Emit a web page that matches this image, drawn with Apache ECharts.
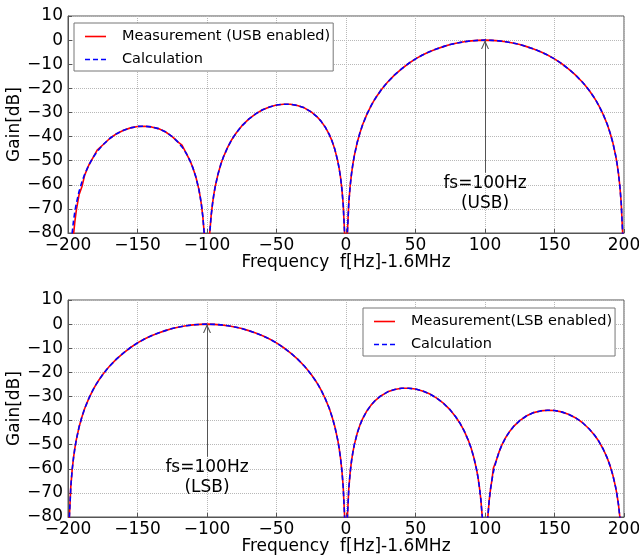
<!DOCTYPE html>
<html>
<head>
<meta charset="utf-8">
<script src="https://cdn.jsdelivr.net/npm/echarts@6/dist/echarts.min.js"></script>
<style>
  html, body { margin: 0; padding: 0; background: #fff; }
  #chart { width: 639px; height: 558px; }
</style>
</head>
<body>
<div id="chart"></div>
<script>
// Axis ticks
const freqTicks = [-200, -150, -100, -50, 0, 50, 100, 150, 200];
const gainTicks = [10, 0, -10, -20, -30, -40, -50, -60, -70, -80];

// Upper panel: USB enabled (frequency offset in Hz, gain in dB)
const freqUsb = [
  -200, -199, -198, -197, -196, -195, -194, -192, -190, -188, -185, -182, -179, -175, -170, -165, -160, -155,
  -150, -145, -140, -135, -130, -125, -121, -118, -115, -112, -110, -108, -106, -105, -104, -103, -102, -101,
  -100, -99, -98, -97, -96, -95, -94, -92, -90, -88, -85, -82, -79, -75, -70, -65, -60, -55,
  -50, -45, -40, -35, -30, -25, -21, -18, -15, -12, -10, -8, -6, -5, -4, -3, -2, -1,
  0, 1, 2, 3, 4, 5, 6, 8, 10, 12, 15, 18, 20, 22, 25, 28, 30, 35,
  40, 45, 50, 55, 60, 65, 70, 75, 80, 85, 90, 95, 100, 105, 110, 115, 120, 125,
  130, 135, 140, 145, 150, 155, 160, 165, 170, 172, 175, 178, 180, 182, 185, 188, 190, 192,
  194, 195, 196, 197, 198, 199, 200
];
const calcUsb = [
  -110, -99.0, -86.9, -79.9, -74.8, -70.9, -67.7, -62.7, -58.8, -55.6, -51.8, -48.7, -46.2, -43.5, -40.8, -38.8, -37.4, -36.4,
  -35.8, -35.7, -36.0, -36.7, -38.0, -40.0, -42.2, -44.3, -46.9, -50.3, -53.2, -56.8, -61.5, -64.6, -68.3, -73.2, -80.2, -92.1,
  -110, -92.0, -79.8, -72.7, -67.7, -63.7, -60.5, -55.4, -51.4, -48.2, -44.3, -41.1, -38.5, -35.6, -32.8, -30.6, -28.9, -27.7,
  -26.9, -26.6, -26.6, -27.1, -28.1, -29.8, -31.7, -33.6, -36.0, -39.2, -41.9, -45.4, -50.0, -53.0, -56.6, -61.5, -68.3, -80.2,
  -110, -79.8, -67.6, -60.4, -55.3, -51.2, -47.9, -42.6, -38.5, -35.0, -30.8, -27.3, -25.2, -23.4, -20.9, -18.7, -17.4, -14.4,
  -11.9, -9.7, -7.8, -6.2, -4.8, -3.7, -2.7, -1.8, -1.2, -0.7, -0.3, -0.1, 0, -0.1, -0.3, -0.7, -1.2, -1.8,
  -2.7, -3.7, -4.8, -6.2, -7.8, -9.7, -11.9, -14.4, -17.4, -18.7, -20.9, -23.4, -25.2, -27.3, -30.8, -35.0, -38.5, -42.6,
  -47.9, -51.2, -55.3, -60.4, -67.6, -79.8, -110
];
const measUsb = [
  -110, -110, -100, -88.0, -80.5, -75.0, -70.5, -64.0, -60.8, -56.0, -51.8, -48.7, -45.6, -43.5, -40.8, -38.8, -37.4, -36.4,
  -35.8, -35.7, -36.0, -36.7, -38.0, -40.0, -42.2, -43.6, -46.9, -50.3, -53.2, -56.8, -61.5, -64.6, -68.3, -73.2, -80.2, -92.1,
  -110, -92.0, -79.8, -72.7, -67.7, -63.7, -60.5, -55.4, -51.4, -48.2, -44.3, -41.1, -38.5, -35.6, -32.8, -30.6, -28.9, -27.7,
  -26.9, -26.6, -26.6, -27.1, -28.1, -29.8, -31.7, -33.6, -36.0, -39.2, -41.9, -45.4, -50.0, -53.0, -56.6, -61.5, -68.3, -80.2,
  -110, -79.8, -67.6, -60.4, -55.3, -51.2, -47.9, -42.6, -38.5, -35.0, -30.8, -27.3, -25.2, -23.4, -20.9, -18.7, -17.4, -14.4,
  -11.9, -9.7, -7.8, -6.2, -4.8, -3.7, -2.7, -1.8, -1.2, -0.7, -0.3, -0.1, 0, -0.1, -0.3, -0.7, -1.2, -1.8,
  -2.7, -3.7, -4.8, -6.2, -7.8, -9.7, -11.9, -14.4, -17.4, -18.7, -20.9, -23.4, -25.2, -27.3, -30.8, -35.0, -38.5, -42.6,
  -47.9, -51.2, -55.3, -60.4, -67.6, -79.8, -110
];

// Lower panel: LSB enabled
const freqLsb = [
  -200, -199, -198, -197, -196, -195, -194, -192, -190, -188, -185, -182, -180, -178, -175, -172, -170, -165,
  -160, -155, -150, -145, -140, -135, -130, -125, -120, -115, -110, -105, -100, -95, -90, -85, -80, -75,
  -70, -65, -60, -55, -50, -45, -40, -35, -30, -28, -25, -22, -20, -18, -15, -12, -10, -8,
  -6, -5, -4, -3, -2, -1, 0, 1, 2, 3, 4, 5, 6, 8, 10, 12, 15, 18,
  21, 25, 30, 35, 40, 45, 50, 55, 60, 65, 70, 75, 79, 82, 85, 88, 90, 92,
  94, 95, 96, 97, 98, 99, 100, 101, 102, 103, 104, 105, 106, 108, 110, 112, 115, 118,
  121, 125, 130, 135, 140, 145, 150, 155, 160, 165, 170, 175, 179, 182, 185, 188, 190, 192,
  194, 195, 196, 197, 198, 199, 200
];
const calcLsb = [
  -110, -79.8, -67.6, -60.4, -55.3, -51.2, -47.9, -42.6, -38.5, -35.0, -30.8, -27.3, -25.2, -23.4, -20.9, -18.7, -17.4, -14.4,
  -11.9, -9.7, -7.8, -6.2, -4.8, -3.7, -2.7, -1.8, -1.2, -0.7, -0.3, -0.1, 0, -0.1, -0.3, -0.7, -1.2, -1.8,
  -2.7, -3.7, -4.8, -6.2, -7.8, -9.7, -11.9, -14.4, -17.4, -18.7, -20.9, -23.4, -25.2, -27.3, -30.8, -35.0, -38.5, -42.6,
  -47.9, -51.2, -55.3, -60.4, -67.6, -79.8, -110, -80.2, -68.3, -61.5, -56.6, -53.0, -50.0, -45.4, -41.9, -39.2, -36.0, -33.6,
  -31.7, -29.8, -28.1, -27.1, -26.6, -26.6, -26.9, -27.7, -28.9, -30.6, -32.8, -35.6, -38.5, -41.1, -44.3, -48.2, -51.4, -55.4,
  -60.5, -63.7, -67.7, -72.7, -79.8, -92.0, -110, -92.1, -80.2, -73.2, -68.3, -64.6, -61.5, -56.8, -53.2, -50.3, -46.9, -44.3,
  -42.2, -40.0, -38.0, -36.7, -36.0, -35.7, -35.8, -36.4, -37.4, -38.8, -40.8, -43.5, -46.2, -48.7, -51.8, -55.6, -58.8, -62.7,
  -67.7, -70.9, -74.8, -79.9, -86.9, -99.0, -110
];
const measLsb = [
  -110, -79.8, -67.6, -60.4, -55.3, -51.2, -47.9, -42.6, -38.5, -35.0, -30.8, -27.3, -25.2, -23.4, -20.9, -18.7, -17.4, -14.4,
  -11.9, -9.7, -7.8, -6.2, -4.8, -3.7, -2.7, -1.8, -1.2, -0.7, -0.3, -0.1, 0, -0.1, -0.3, -0.7, -1.2, -1.8,
  -2.7, -3.7, -4.8, -6.2, -7.8, -9.7, -11.9, -14.4, -17.4, -18.7, -20.9, -23.4, -25.2, -27.3, -30.8, -35.0, -38.5, -42.6,
  -47.9, -51.2, -55.3, -60.4, -67.6, -79.8, -110, -80.2, -68.3, -61.5, -56.6, -53.0, -50.0, -45.4, -41.9, -39.2, -36.0, -33.6,
  -31.7, -29.8, -28.1, -27.1, -26.6, -26.6, -26.9, -27.7, -28.9, -30.6, -32.8, -35.6, -38.5, -41.1, -44.3, -48.2, -51.4, -55.4,
  -60.5, -63.7, -67.7, -72.7, -79.8, -92.0, -110, -92.1, -80.2, -73.2, -68.3, -64.6, -59.8, -56.8, -53.2, -50.3, -46.9, -44.3,
  -42.2, -40.0, -38.0, -36.7, -36.0, -35.7, -35.8, -36.4, -37.4, -38.8, -40.8, -43.5, -46.2, -48.7, -51.8, -55.6, -58.8, -62.7,
  -67.7, -70.9, -74.8, -79.9, -86.9, -99.0, -110
];

const FONT = 'DejaVu Sans';
const RED = '#ff0000';
const BLUE = '#0000ff';
const minusSign = v => String(v).replace('-', '\u2212');
const zip = (xs, ys) => xs.map((x, i) => [x, ys[i]]);

// thin open arrow head, tip centred in its box
const openArrow = 'path://M0,-10 L0.01,-10 L0,-9.99 Z M0,0 L5,10 L3.6,10 L0,2.8 L-3.6,10 L-5,10 Z';
// legend keys: solid stroke and three dashes
const solidKey = 'path://M0,0 H21 V1.6 H0 Z';
const dashedKey = 'path://M0,0 H5 V1.6 H0 Z M8,0 H13 V1.6 H8 Z M16,0 H21 V1.6 H16 Z';

function xAxisFor(i) {
  return {
    type: 'value', gridIndex: i,
    min: freqTicks[0], max: freqTicks[freqTicks.length - 1], interval: freqTicks[1] - freqTicks[0],
    name: 'Frequency  f[Hz]-1.6MHz', nameLocation: 'middle', nameGap: 21, nameMoveOverlap: false,
    nameTextStyle: { fontSize: 17, color: '#000', fontFamily: FONT },
    axisLine: { onZero: false, lineStyle: { color: '#555', width: 1 } },
    axisTick: { inside: true, length: 4, lineStyle: { color: '#555' } },
    axisLabel: { fontSize: 17, color: '#000', margin: 4, fontFamily: FONT, formatter: minusSign, hideOverlap: false },
    splitLine: { show: true, lineStyle: { type: 'dotted', color: '#b8b8b8', width: 1 } }
  };
}
function yAxisFor(i) {
  return {
    type: 'value', gridIndex: i,
    min: gainTicks[gainTicks.length - 1], max: gainTicks[0], interval: gainTicks[0] - gainTicks[1],
    name: 'Gain[dB]', nameLocation: 'middle', nameGap: 45, nameMoveOverlap: false,
    nameTextStyle: { fontSize: 17, color: '#000', fontFamily: FONT },
    axisLine: { onZero: false, lineStyle: { color: '#555', width: 1 } },
    axisTick: { inside: true, length: 4, lineStyle: { color: '#555' } },
    axisLabel: { fontSize: 17, color: '#000', margin: 5, fontFamily: FONT, formatter: minusSign, hideOverlap: false },
    splitLine: { show: true, lineStyle: { type: 'dotted', color: '#b8b8b8', width: 1 } }
  };
}

function annotation(text) {
  return {
    markLine: {
      silent: true, animation: false,
      symbol: ['none', openArrow], symbolSize: [8, 18],
      label: { show: false },
      lineStyle: { color: '#555', width: 1, type: 'solid' },
      data: [[{ coord: [text.x, -55] }, { coord: [text.x, 0] }]]
    },
    markPoint: {
      silent: true, animation: false,
      symbol: 'circle', symbolSize: 0,
      label: {
        show: true, position: 'inside', formatter: text.label,
        fontSize: 17, lineHeight: 20, color: '#000', fontFamily: FONT
      },
      data: [{ coord: [text.x, -63.5] }]
    }
  };
}

function lineSeries(name, i, data, dashed) {
  return {
    name, type: 'line', xAxisIndex: i, yAxisIndex: i,
    data, symbol: 'none', clip: true, animation: false,
    lineStyle: dashed
      ? { color: BLUE, width: 1.6, type: [5, 3] }
      : { color: RED, width: 1.6 },
    itemStyle: { color: dashed ? BLUE : RED }
  };
}

const legendBase = {
  orient: 'vertical', itemWidth: 21, itemHeight: 14, itemGap: 8,
  padding: [6, 3, 4, 11], borderColor: '#777', borderWidth: 1, backgroundColor: '#fff',
  textStyle: { fontSize: 14.5, color: '#000', fontFamily: FONT, padding: [0, 0, 0, 11] },
  selectedMode: false
};

const chart = echarts.init(document.getElementById('chart'), null, { renderer: 'canvas' });
chart.setOption({
  animation: false,
  backgroundColor: '#fff',
  textStyle: { fontFamily: FONT },
  grid: [
    { left: 68, right: 15, top: 16, height: 217, containLabel: false, outerBoundsMode: 'none',
      show: true, borderColor: '#555', borderWidth: 1, backgroundColor: 'transparent' },
    { left: 68, right: 15, top: 300, height: 217, containLabel: false, outerBoundsMode: 'none',
      show: true, borderColor: '#555', borderWidth: 1, backgroundColor: 'transparent' }
  ],
  xAxis: [xAxisFor(0), xAxisFor(1)],
  yAxis: [yAxisFor(0), yAxisFor(1)],
  legend: [
    Object.assign({}, legendBase, {
      data: [
        { name: 'Measurement (USB enabled)', icon: solidKey, itemStyle: { color: RED } },
        { name: 'Calculation', icon: dashedKey, itemStyle: { color: BLUE } }
      ],
      left: 74, top: 23
    }),
    Object.assign({}, legendBase, {
      data: [
        { name: 'Measurement(LSB enabled)', icon: solidKey, itemStyle: { color: RED } },
        { name: 'Calculation', icon: dashedKey, itemStyle: { color: BLUE } }
      ],
      left: 363, top: 308
    })
  ],
  series: [
    lineSeries('Measurement (USB enabled)', 0, zip(freqUsb, measUsb), false),
    Object.assign(lineSeries('Calculation', 0, zip(freqUsb, calcUsb), true), annotation({ x: 100, label: 'fs=100Hz\n(USB)' })),
    lineSeries('Measurement(LSB enabled)', 1, zip(freqLsb, measLsb), false),
    Object.assign(lineSeries('Calculation', 1, zip(freqLsb, calcLsb), true), annotation({ x: -100, label: 'fs=100Hz\n(LSB)' }))
  ]
});
</script>
</body>
</html>
